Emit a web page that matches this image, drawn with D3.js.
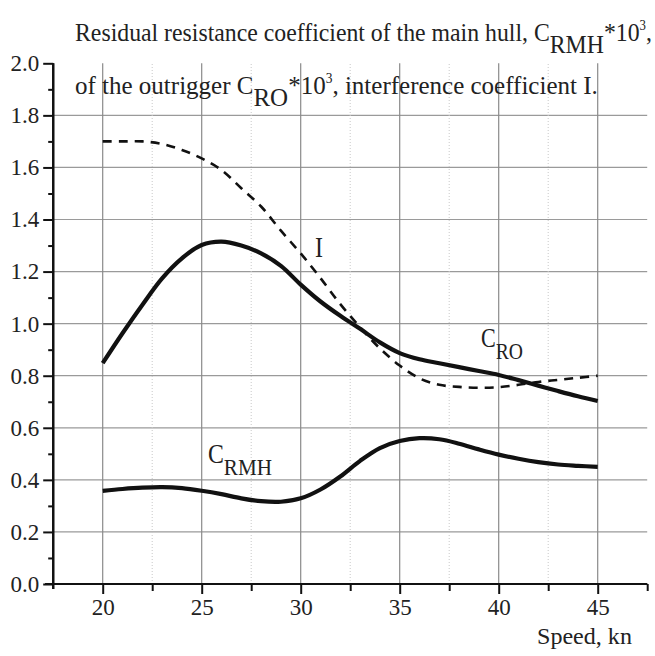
<!DOCTYPE html>
<html>
<head>
<meta charset="utf-8">
<script src="https://cdn.jsdelivr.net/npm/d3@7"></script>
<style>
  body { margin: 0; background: #fff; }
</style>
</head>
<body>
<div id="chart"></div>
<script>

// speed, kn
var speed = [20, 21, 22, 23, 24, 25, 26, 27, 28, 29, 30, 31, 32, 33, 34, 35, 36, 37, 38, 39, 40, 41, 42, 43, 44, 45]

// outrigger C_RO*10^3
var cro = [0.848, 0.963, 1.072, 1.174, 1.251, 1.302, 1.315, 1.30, 1.27, 1.222, 1.15, 1.085, 1.03, 0.98, 0.928, 0.887, 0.863, 0.848, 0.833, 0.818, 0.803, 0.783, 0.762, 0.741, 0.721, 0.703]

// interference coefficient I
var interf = [1.70, 1.70, 1.70, 1.69, 1.667, 1.635, 1.59, 1.52, 1.45, 1.357, 1.27, 1.175, 1.075, 0.986, 0.905, 0.839, 0.79, 0.765, 0.757, 0.754, 0.756, 0.765, 0.776, 0.784, 0.792, 0.80]

// main hull C_RMH*10^3
var crmh = [0.358, 0.365, 0.37, 0.372, 0.368, 0.358, 0.345, 0.329, 0.318, 0.316, 0.329, 0.363, 0.413, 0.473, 0.522, 0.549, 0.56, 0.556, 0.539, 0.517, 0.497, 0.481, 0.468, 0.459, 0.454, 0.45]

var xTicks = [20, 25, 30, 35, 40, 45]
var xMinor = [22.5, 27.5, 32.5, 37.5, 42.5, 47.5]
var yTicks = [0, 0.2, 0.4, 0.6, 0.8, 1.0, 1.2, 1.4, 1.6, 1.8, 2.0]
var yMinor = [0.1, 0.3, 0.5, 0.7, 0.9, 1.1, 1.3, 1.5, 1.7, 1.9]

var serif = "Liberation Serif"

var svg = d3.select("#chart").append("svg")
  .attr("width", 655)
  .attr("height", 656)

var x = d3.scaleLinear().domain([17.5, 47.5]).range([53.2, 647.2])
var y = d3.scaleLinear().domain([0, 2]).range([584, 63.3])

// squeeze a text horizontally so it spans the wanted width
function fitText(t, left, baseline, width) {
  var w = t.node().getBBox().width
  t.attr("transform", `translate(${left},${baseline}) scale(${width / w},1)`)
}

// grid
svg.append("g").selectAll("line").data(yTicks.slice(1, 10)).enter().append("line")
  .attr("x1", x(17.5)).attr("x2", x(47.5))
  .attr("y1", d => y(d)).attr("y2", d => y(d))
  .attr("stroke", "#9a9a9a").attr("stroke-width", 1.2)

svg.append("g").selectAll("line").data(xTicks).enter().append("line")
  .attr("x1", d => x(d)).attr("x2", d => x(d))
  .attr("y1", y(0)).attr("y2", y(2))
  .attr("stroke", "#8a8a8a").attr("stroke-width", 1.2)

svg.append("g").selectAll("line").data(xMinor.slice(0, 5)).enter().append("line")
  .attr("x1", d => x(d)).attr("x2", d => x(d))
  .attr("y1", y(0)).attr("y2", y(2))
  .attr("stroke", "#c8c8c8").attr("stroke-width", 1)
  .attr("stroke-dasharray", "1,2")

// axes
var xAxis = svg.append("g").attr("transform", `translate(0,${y(0)})`)
xAxis.call(d3.axisBottom(x).tickValues(xTicks).tickSize(10).tickPadding(5).tickFormat(d3.format("d")))
xAxis.append("g").call(d3.axisBottom(x).tickValues(xMinor).tickSize(7).tickFormat(""))
xAxis.selectAll(".domain").attr("stroke", "#111").attr("stroke-width", 2.2)
  .attr("d", `M${x(17.5) - 8},0H${x(47.5)}`)

var yAxis = svg.append("g").attr("transform", `translate(${x(17.5)},0)`)
yAxis.call(d3.axisLeft(y).tickValues(yTicks).tickSize(10).tickPadding(4).tickFormat(d3.format(".1f")))
yAxis.append("g").call(d3.axisLeft(y).tickValues(yMinor).tickSize(5).tickFormat(""))
yAxis.selectAll(".domain").attr("stroke", "#111").attr("stroke-width", 2.2)
  .attr("d", `M0,${y(2)}V${y(0) + 5}`)

svg.selectAll(".tick text").style("font-family", serif).style("font-size", "23px").style("fill", "#222")
svg.selectAll(".tick line").attr("stroke", "#111").attr("stroke-width", 2)

// curves
var line = d3.line().curve(d3.curveCatmullRom.alpha(0.5))

function drawCurve(values, dash, width) {
  svg.append("path")
    .datum(speed.map((s, i) => [x(s), y(values[i])]))
    .attr("d", line)
    .attr("fill", "none")
    .attr("stroke", "#111")
    .attr("stroke-width", width)
    .attr("stroke-dasharray", dash)
}

drawCurve(interf, "9,7", 2.6)
drawCurve(cro, null, 4.2)
drawCurve(crmh, null, 4.2)

// title
var t1 = svg.append("text").style("font-family", serif).style("fill", "#222").attr("font-size", 26)
t1.append("tspan").text("Residual resistance coefficient of the main hull, C")
t1.append("tspan").attr("dy", 12).text("RMH")
t1.append("tspan").attr("dy", -12).text("*10")
t1.append("tspan").attr("dy", -11).attr("font-size", 14).text("3")
t1.append("tspan").attr("dy", 11).text(",")
fitText(t1, 75, 41, 577)

var t2 = svg.append("text").style("font-family", serif).style("fill", "#222").attr("font-size", 26)
t2.append("tspan").text("of the outrigger C")
t2.append("tspan").attr("dy", 12).text("RO")
t2.append("tspan").attr("dy", -12).text("*10")
t2.append("tspan").attr("dy", -11).attr("font-size", 14).text("3")
t2.append("tspan").attr("dy", 11).text(", interference coefficient I.")
fitText(t2, 75, 94, 523)

// curve labels
var lI = svg.append("text").style("font-family", serif).style("fill", "#222").attr("font-size", 30).text("I")
fitText(lI, 315, 257, 8)

var lRO = svg.append("text").style("font-family", serif).style("fill", "#222").attr("font-size", 27)
lRO.append("tspan").text("C")
lRO.append("tspan").attr("dy", 12).attr("font-size", 24).text("RO")
fitText(lRO, 481, 347, 42)

var lRMH = svg.append("text").style("font-family", serif).style("fill", "#222").attr("font-size", 27)
lRMH.append("tspan").text("C")
lRMH.append("tspan").attr("dy", 12).attr("font-size", 24).text("RMH")
fitText(lRMH, 208, 463, 64)

// axis title
var xt = svg.append("text").style("font-family", serif).style("fill", "#222").attr("font-size", 24).text("Speed, kn")
fitText(xt, 537, 644, 95)

</script>
</body>
</html>
